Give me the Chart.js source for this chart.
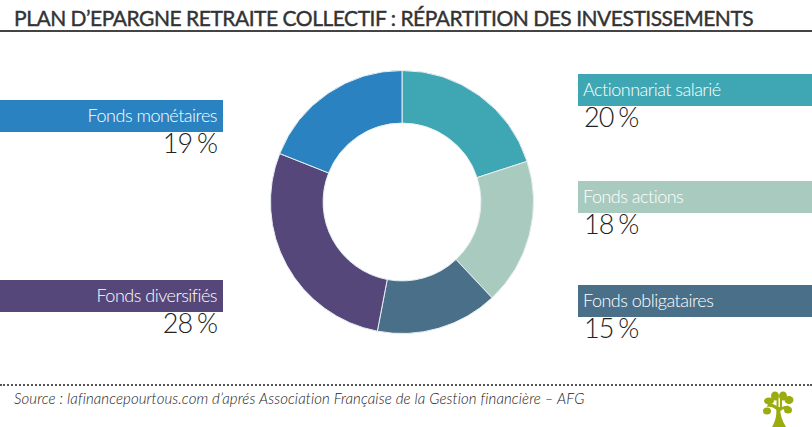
<!DOCTYPE html>
<html lang="fr"><head><meta charset="utf-8">
<script src="https://cdn.jsdelivr.net/npm/chart.js@4"></script>
<style>
html,body{margin:0;padding:0;background:#fff;width:812px;height:427px;overflow:hidden;font-family:Lato,sans-serif;color:#333}
#wrap{position:relative;width:812px;height:427px}
#title{position:absolute;left:14px;top:5px;font-size:21px;font-weight:400;letter-spacing:-.48px;white-space:nowrap;-webkit-text-stroke:.4px #333;color:#333;line-height:26px}
#rule{position:absolute;left:0;top:30px;width:812px;height:2px;background:#444}
#dots{position:absolute;left:0;top:384px;width:812px;border-top:2px dotted #555}
#src{position:absolute;left:14px;top:389px;font-size:15px;letter-spacing:.1px;font-style:italic;font-weight:300;white-space:nowrap;line-height:18px;color:#222}
#cw{position:absolute;left:261px;top:61px;width:282px;height:282px}
.band{position:absolute;height:32px;line-height:31px;color:#fff;font-size:18px;letter-spacing:-.5px;font-weight:300;white-space:nowrap;box-sizing:border-box}
.val{position:absolute;font-size:27px;font-weight:300;line-height:30px;letter-spacing:-1px;word-spacing:-1.5px;white-space:nowrap;color:#222}
#tree{position:absolute;left:762px;top:390px}
</style></head><body><div id="wrap">
<div id="title"></div><div id="rule"></div>
<div id="cw"><canvas id="c" width="282" height="282"></canvas></div>
<div id="labels"></div>
<div id="dots"></div><div id="src"></div>
<svg id="tree" width="33" height="37" viewBox="0 0 33 37"><g fill="#9bac0f">
<path d="M10 37C14 30 15 24 14 17L18 17C18 24 20 31 24 37Z"/>
<path d="M15 20C11 17 8 16 5 17L6 14C10 13 14 15 16 17Z"/>
<path d="M17 19C21 16 24 15 27 16L28 19C24 18 20 19 17 22Z"/>
<ellipse cx="5" cy="21" rx="4" ry="3.5"/><ellipse cx="7" cy="11" rx="5" ry="3.5"/>
<ellipse cx="13" cy="6" rx="4" ry="4.5"/><ellipse cx="21" cy="6" rx="4" ry="4.5"/>
<ellipse cx="27" cy="10" rx="4.5" ry="4"/><ellipse cx="26" cy="20" rx="4" ry="3.5"/>
<rect x="14.5" y="8" width="2" height="11"/><rect x="18" y="8" width="2" height="11"/></g></svg>
</div>
<script>
const titleText = "PLAN D’EPARGNE RETRAITE COLLECTIF : RÉPARTITION DES INVESTISSEMENTS";
const sourceText = "Source : lafinancepourtous.com d’aprés Association Française de la Gestion financière – AFG";
const categories = ["Actionnariat salarié","Fonds actions","Fonds obligataires","Fonds diversifiés","Fonds monétaires"];
const values = [20,18,15,28,19];
const colors = ["#3fa7b3","#a9cbbf","#4a7089","#56477a","#2a82c0"];
const bandTops = [74,181,285,280,100];
const sides = ["right","right","right","left","left"];

document.getElementById("title").textContent = titleText;
document.getElementById("src").textContent = sourceText;
const host = document.getElementById("labels");
categories.forEach((name,i)=>{
  const b=document.createElement("div"); b.className="band"; b.textContent=name;
  b.style.top=bandTops[i]+"px"; b.style.background=colors[i];
  const v=document.createElement("div"); v.className="val"; v.textContent=values[i]+" %";
  v.style.top=(bandTops[i]+28)+"px";
  if(sides[i]==="right"){ b.style.left="578px"; b.style.width="234px"; b.style.paddingLeft="5px"; v.style.left="584px"; }
  else { b.style.left="0"; b.style.width="223px"; b.style.textAlign="right"; b.style.paddingRight="6px"; v.style.right=(812-217)+"px"; }
  host.append(b,v);
});
new Chart(document.getElementById("c"),{
  type:"doughnut",
  data:{labels:categories,datasets:[{data:values,backgroundColor:colors,borderColor:"#e6eef2",borderWidth:1}]},
  options:{responsive:false,animation:false,cutout:"60%",layout:{padding:9},
    plugins:{legend:{display:false},tooltip:{enabled:false}}}
});
</script></body></html>
